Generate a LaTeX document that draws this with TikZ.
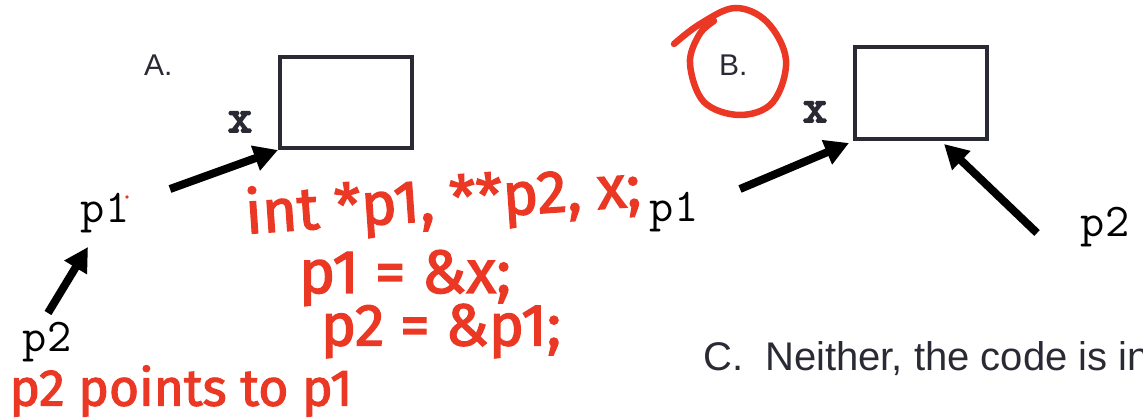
\documentclass[tikz,border=0pt]{standalone}
\usepackage{fontspec}
\setmainfont{Liberation Sans}
\newfontfamily\hand[FakeBold=2.2]{Fira Sans}
\newfontfamily\monobold[FakeBold=4]{Latin Modern Mono}
\usetikzlibrary{arrows.meta}
\definecolor{ink}{RGB}{42,42,52}
\definecolor{pen}{RGB}{235,56,36}
\tikzset{
  tag/.style={font=\fontsize{30}{32}\selectfont, text=ink, inner sep=0, anchor=base west},
  var/.style={font=\ttfamily\fontsize{47}{49}\selectfont, inner sep=0, anchor=base},
  xvar/.style={font=\monobold\fontsize{47}{49}\selectfont, text=ink, inner sep=0, anchor=base},
  cell/.style={draw=ink, line width=4pt, minimum width=132pt, minimum height=91pt, inner sep=0},
  ptr/.style={line width=8pt, -{Triangle[length=24pt,width=25pt]}},
  note/.style={text=pen, inner sep=0},
}
\begin{document}
\begin{tikzpicture}[x=1pt,y=-1pt]
\useasboundingbox (0,0) rectangle (1143,419);
\clip (0,0) rectangle (1143,419);

% ---- option A: p2 -> p1 -> x
\node[tag] (labA) at (144,76) {A.};
\node[cell] (boxA) at (346,102.5) {};
\node[xvar] (xA) at (240,132) {x};
\node[var] (p1A) at (105,223) {p1};
\node[var] (p2A) at (47,352) {p2};
\fill[pen] (127,197) circle (1.8);
\coordinate (a1s) at (170,189);
\coordinate (a2s) at (48,313);
\coordinate (a2e) at (88,247);
\draw[ptr] (a1s) -- (boxA.south west);
\draw[ptr] (a2s) -- (a2e);

% ---- option B: p1 -> x <- p2
\node[tag] (labB) at (719,76) {B.};
\node[cell, minimum height=92pt] (boxB) at (921,93) {};
\node[xvar] (xB) at (815,122) {x};
\node[var] (p1B) at (674,222) {p1};
\node[var] (p2B) at (1105,237) {p2};
\coordinate (b1s) at (740,189);
\coordinate (b2s) at (1037,233);
\draw[ptr] (b1s) -- ([shift={(-4pt,-2pt)}]boxB.south west);
\draw[ptr] (b2s) -- ([shift={(91pt,-3pt)}]boxB.south west);

% ---- option C
\node[font=\fontsize{40}{42}\selectfont, text=ink, inner sep=0, anchor=base west] (optC)
  at (703,371) {C.\hspace{22pt}Neither, the code is in};

% ---- red pen annotations
\draw[pen, line width=6.5pt, line cap=round, line join=round]
  plot[smooth, tension=0.6] coordinates {(674,44) (700,24) (735,8) (767,22) (786,60)
    (773,102) (740,115) (704,102) (690,64) (699,35) (714,21)};
\node[note, rotate=4] (n1) at (443,203)
  {\resizebox{396pt}{!}{\hand int *p1, **p2, x;}};
\node[note] (n2) at (405,278)
  {\resizebox{212pt}{!}{\hand p1 = \&x;}};
\node[note] (n3) at (441,331)
  {\resizebox{240pt}{!}{\hand p2 = \&p1;}};
\node[note] (n4) at (181,391)
  {\resizebox{343pt}{!}{\hand p2 points to p1}};
\end{tikzpicture}
\end{document}
